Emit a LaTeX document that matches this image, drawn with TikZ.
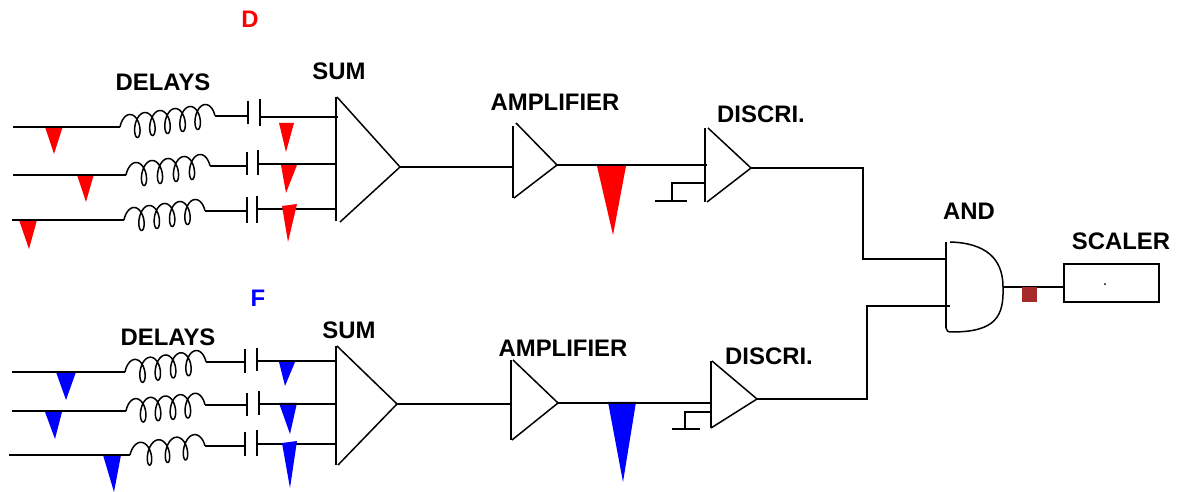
\documentclass[tikz,border=0pt]{standalone}
\usepackage{fontspec}
\setmainfont{Liberation Sans}
\usepackage{xcolor}
\definecolor{scalerbrown}{RGB}{165,42,42}
\tikzset{
	wire/.style={line width=0.85pt},
	lbl/.style={font=\bfseries\fontsize{13.6}{16}\selectfont,inner sep=0pt},
	redpulse/.style={fill=red,draw=none},
	bluepulse/.style={fill=blue,draw=none}
}
% start, length, rise, turns
\newcommand{\coilplot}[4]{
	\draw[wire,shift={#1},domain=0:1,samples=200,smooth] plot ({(#2-12)*\x+6*(1-cos(360*(#4+0.5)*\x))}, {#3*\x-12*sin(360*(#4+0.5)*\x)});
}
\begin{document}
\begin{tikzpicture}[x=0.02cm,y=-0.02cm]
	\useasboundingbox (0,0) rectangle (1184,492);

	% upper channel, row ends
	\coordinate (da1) at (13,127);   \coordinate (db1) at (120,127);
	\coordinate (dc1) at (215,116);  \coordinate (dd1) at (248,116);
	\coordinate (de1) at (260,117);  \coordinate (df1) at (338,117);
	\coordinate (da2) at (13,175);   \coordinate (db2) at (126,175);
	\coordinate (dc2) at (210,166);  \coordinate (dd2) at (247,166);
	\coordinate (de2) at (258,164);  \coordinate (df2) at (335,164);
	\coordinate (da3) at (12,220);   \coordinate (db3) at (124,220);
	\coordinate (dc3) at (205,211);  \coordinate (dd3) at (247,211);
	\coordinate (de3) at (257,209);  \coordinate (df3) at (335,209);
	\coordinate (dsum) at (400,167);
	\coordinate (damp) at (514,167);
	\coordinate (dampout) at (557,165);
	\coordinate (ddisc) at (707,165);
	\coordinate (ddiscout) at (751,168);
	\coordinate (dcorner) at (863,168);
	\coordinate (dcorner2) at (863,259);

	% lower channel, row ends
	\coordinate (fa1) at (12,372);   \coordinate (fb1) at (125,372);
	\coordinate (fc1) at (206,362);  \coordinate (fd1) at (245,362);
	\coordinate (fe1) at (257,361);  \coordinate (ff1) at (337,361);
	\coordinate (fa2) at (12,411);   \coordinate (fb2) at (126,411);
	\coordinate (fc2) at (205,405);  \coordinate (fd2) at (247,405);
	\coordinate (fe2) at (259,404);  \coordinate (ff2) at (336,404);
	\coordinate (fa3) at (9,455);    \coordinate (fb3) at (130,455);
	\coordinate (fc3) at (205,446);  \coordinate (fd3) at (245,446);
	\coordinate (fe3) at (257,444);  \coordinate (ff3) at (336,444);
	\coordinate (fsum) at (397,404);
	\coordinate (famp) at (511,404);
	\coordinate (fampout) at (558,403);
	\coordinate (fdisc) at (711,403);
	\coordinate (fdiscout) at (757,399);
	\coordinate (fcorner) at (867,399);
	\coordinate (fcorner2) at (867,306);

	\coordinate (andin1) at (946,259);
	\coordinate (andin2) at (950,306);
	\coordinate (andout) at (1003,287);
	\coordinate (scalerin) at (1064,287);

	% pulses under the wires
	\fill[redpulse] (45,127) -- (63,126) -- (54,154) -- cycle;
	\fill[redpulse] (77,175) -- (94,174) -- (86,202) -- cycle;
	\fill[redpulse] (19,220) -- (37,220) -- (29,249) -- cycle;
	\fill[redpulse] (279,123) -- (294,123) -- (286,152) -- cycle;
	\fill[redpulse] (281,165) -- (297,165) -- (286,193) -- cycle;
	\fill[redpulse] (597,166) -- (626,166) -- (613,235) -- cycle;
	\fill[bluepulse] (56,372) -- (76,372) -- (66,400) -- cycle;
	\fill[bluepulse] (45,412) -- (62,412) -- (55,439) -- cycle;
	\fill[bluepulse] (103,455) -- (121,455) -- (114,492) -- cycle;
	\fill[bluepulse] (279,362) -- (295,362) -- (285,386) -- cycle;
	\fill[bluepulse] (279,403) -- (297,403) -- (290,434) -- cycle;
	\fill[bluepulse] (608,402) -- (636,402) -- (623,482) -- cycle;

	% upper channel
	\draw[wire] (da1) -- (db1);
	\draw[wire] (da2) -- (db2);
	\draw[wire] (da3) -- (db3);
	\coilplot{(db1)}{95}{-11}{5}
	\coilplot{(db2)}{84}{-9}{4}
	\coilplot{(db3)}{81}{-9}{4}
	\draw[wire] (dc1) -- (dd1);
	\draw[wire] (dc2) -- (dd2);
	\draw[wire] (dc3) -- (dd3);
	\draw[wire] (248,101) -- (248,124);
	\draw[wire] (260,99) -- (260,126);
	\draw[wire] (247,152) -- (247,175);
	\draw[wire] (258,150) -- (258,175);
	\draw[wire] (247,197) -- (247,223);
	\draw[wire] (257,196) -- (257,223);
	\draw[wire] (de1) -- (df1);
	\draw[wire] (de2) -- (df2);
	\draw[wire] (de3) -- (df3);
	\draw[wire] (336,97) -- (336,221);
	\draw[wire] (337,97) -- (dsum) -- (340,222);
	\draw[wire] (dsum) -- (damp);
	\draw[wire] (513,126) -- (513,198);
	\draw[wire] (516,123) -- (dampout) -- (514,198);
	\draw[wire] (dampout) -- (ddisc);
	\draw[wire] (705,128) -- (705,202);
	\draw[wire] (708,128) -- (ddiscout) -- (707,202);
	\draw[wire] (ddiscout) -- (dcorner) -- (dcorner2) -- (andin1);
	\draw[wire] (705,183) -- (672,183) -- (672,201);
	\draw[wire] (655,201) -- (687,201);

	% lower channel
	\draw[wire] (fa1) -- (fb1);
	\draw[wire] (fa2) -- (fb2);
	\draw[wire] (fa3) -- (fb3);
	\coilplot{(fb1)}{81}{-10}{4}
	\coilplot{(fb2)}{79}{-6}{4}
	\coilplot{(fb3)}{75}{-9}{3}
	\draw[wire] (fc1) -- (fd1);
	\draw[wire] (fc2) -- (fd2);
	\draw[wire] (fc3) -- (fd3);
	\draw[wire] (245,349) -- (245,373);
	\draw[wire] (257,348) -- (257,371);
	\draw[wire] (247,393) -- (247,416);
	\draw[wire] (259,391) -- (259,415);
	\draw[wire] (245,432) -- (245,456);
	\draw[wire] (257,430) -- (257,456);
	\draw[wire] (fe1) -- (ff1);
	\draw[wire] (fe2) -- (ff2);
	\draw[wire] (fe3) -- (ff3);
	\draw[wire] (336,346) -- (336,465);
	\draw[wire] (337,346) -- (fsum) -- (338,465);
	\draw[wire] (fsum) -- (famp);
	\draw[wire] (511,360) -- (511,440);
	\draw[wire] (513,360) -- (fampout) -- (512,440);
	\draw[wire] (fampout) -- (fdisc);
	\draw[wire] (711,361) -- (711,428);
	\draw[wire] (712,361) -- (fdiscout) -- (711,428);
	\draw[wire] (fdiscout) -- (fcorner) -- (fcorner2) -- (andin2);
	\draw[wire] (711,412) -- (685,412) -- (685,429);
	\draw[wire] (672,429) -- (700,429);

	% pulses over the wires
	\fill[redpulse] (282,206) -- (297,204) -- (288,242) -- cycle;
	\fill[bluepulse] (282,443) -- (297,441) -- (290,488) -- cycle;

	% and gate and scaler
	\draw[wire] (946,242) -- (946,328);
	\draw[wire] (950,242) .. controls (985,243) and (1003,258) .. (andout)
		.. controls (1004,316) and (996,332) .. (952,332) .. controls (948,332) and (946,331) .. (946,328);
	\draw[wire] (andout) -- (scalerin);
	\fill[scalerbrown] (1022,287) rectangle (1037,302);
	\node[draw,line width=0.85pt,minimum width=1.9cm,minimum height=0.76cm,inner sep=0pt] (scaler) at (1111.5,283) {};
	\node[font=\fontsize{9}{10}\selectfont,inner sep=0pt] (scalerdot) at (1105,285) {.};

	\node[lbl,red] (dlabel) at (250,19) {D};
	\node[lbl,blue] (flabel) at (258,298) {F};
	\node[lbl] (delaysd) at (163,82) {DELAYS};
	\node[lbl] (sumd) at (339,71) {SUM};
	\node[lbl] (ampd) at (555,102) {AMPLIFIER};
	\node[lbl] (discd) at (761,114) {DISCRI.};
	\node[lbl] (delaysf) at (168,337) {DELAYS};
	\node[lbl] (sumf) at (349,330) {SUM};
	\node[lbl] (ampf) at (563,348) {AMPLIFIER};
	\node[lbl] (discf) at (769,356) {DISCRI.};
	\node[lbl] (andlabel) at (969,211) {AND};
	\node[lbl] (scalerlabel) at (1121,241) {SCALER};
\end{tikzpicture}
\end{document}
